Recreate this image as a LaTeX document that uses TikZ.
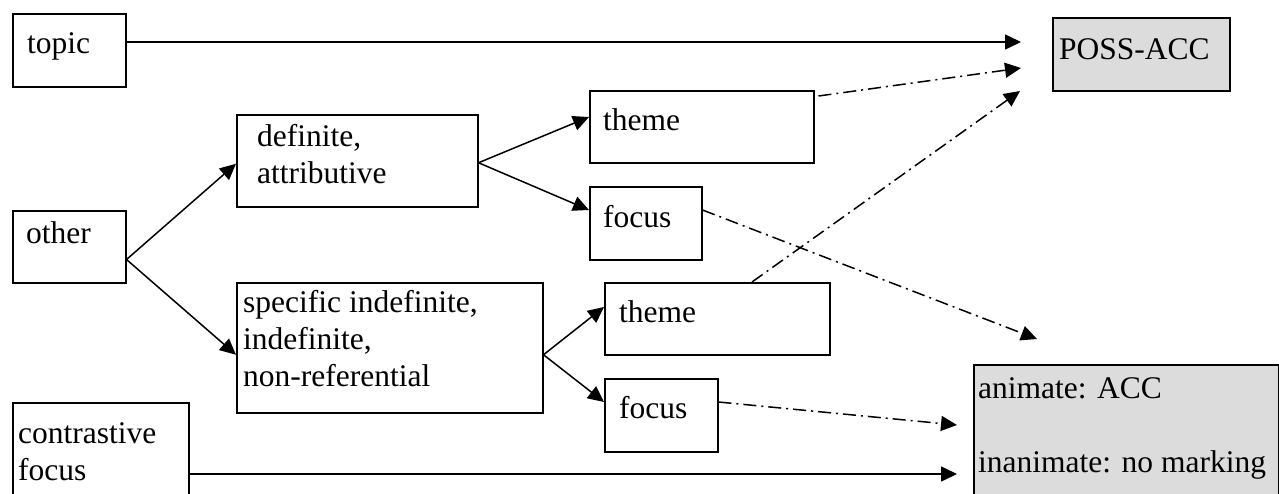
\documentclass[tikz,border=0pt]{standalone}
\usepackage{fontspec}
\setmainfont{Liberation Serif}
\usetikzlibrary{arrows.meta,calc}
\definecolor{boxgray}{RGB}{220,220,220}
\tikzset{
    box/.style={draw, line width=1.5pt, rectangle, inner sep=0pt, anchor=north west},
    grey box/.style={box, fill=boxgray},
    txt/.style={anchor=base west, inner sep=0pt, align=left, font=\fontsize{31.5}{37}\selectfont},
    arr/.style={-{Triangle[length=16pt,width=15pt]}, line width=1.5pt},
    dotarr/.style={arr, dash pattern=on 13pt off 5pt on 2pt off 5pt},
}
\begin{document}
\begin{tikzpicture}[x=1pt,y=-1pt, line join=miter]
        \useasboundingbox (0,0) rectangle (1279,493);
        \clip (0,0) rectangle (1279,493);

        % boxes
        \node[box, minimum width=113pt, minimum height=73pt] (topic) at (12,13) {};
        \node[grey box, minimum width=177pt, minimum height=73pt] (poss) at (1052,17) {};
        \node[box, minimum width=241pt, minimum height=92pt] (defn) at (236,114) {};
        \node[box, minimum width=224pt, minimum height=72pt] (theme1) at (589,90) {};
        \node[box, minimum width=112pt, minimum height=73pt] (focus1) at (589,186) {};
        \node[box, minimum width=113pt, minimum height=72pt] (other) at (12,210) {};
        \node[box, minimum width=306pt, minimum height=130pt] (spec) at (236,282) {};
        \node[box, minimum width=225pt, minimum height=72pt] (theme2) at (604,282) {};
        \node[box, minimum width=113pt, minimum height=73pt] (focus2) at (604,378) {};
        \node[box, minimum width=176pt, minimum height=110pt] (contr) at (12,402) {};
        \node[grey box, minimum width=305pt, minimum height=150pt] (anim) at (973,364) {};

        % texts (base = last line)
        \node[txt] (topictxt) at ($(topic.north west)+(15,40)$) {topic};
        \node[txt] (posstxt) at ($(poss.north west)+(7,42)$) {POSS-ACC};
        \node[txt] (defntxt) at ($(defn.north west)+(21,69)$) {definite,\\attributive};
        \node[txt] (theme1txt) at ($(theme1.north west)+(14,40)$) {theme};
        \node[txt] (focus1txt) at ($(focus1.north west)+(14,41)$) {focus};
        \node[txt] (othertxt) at ($(other.north west)+(14,33)$) {other};
        \node[txt] (spectxt) at ($(spec.north west)+(7,104)$) {specific indefinite,\\indefinite,\\non-referential};
        \node[txt] (theme2txt) at ($(theme2.north west)+(15,40)$) {theme};
        \node[txt] (focus2txt) at ($(focus2.north west)+(15,40)$) {focus};
        \node[txt] (contrtxt) at ($(contr.north west)+(6,78)$) {contrastive\\focus};
        \node[txt] (animtxt) at ($(anim.north west)+(5,108)$) {animate: ACC\\[37pt]inanimate: no marking};

        % free ends
        \coordinate (possin1) at (1021,42);
        \coordinate (possin2) at (1021,68);
        \coordinate (possin3) at (1020,91);
        \coordinate (accin1) at (1037,339);
        \coordinate (accin2) at (957,425);
        \coordinate (accin3) at (957,474);
        \coordinate (otherout) at ($(other.south east)+(0,-24)$);
        \coordinate (defnout) at ($(defn.east)+(0,2)$);
        \coordinate (specout) at ($(spec.east)+(0,7)$);

        % solid arrows
        \draw[arr] (topic.east |- possin1) -- (possin1);
        \draw[arr] (otherout) -- ($(defn.west)+(0,3)$);
        \draw[arr] (otherout) -- ($(spec.west)+(0,7)$);
        \draw[arr] (defnout) -- ($(theme1.north west)+(0,27)$);
        \draw[arr] (defnout) -- ($(focus1.north west)+(0,24)$);
        \draw[arr] (specout) -- ($(theme2.north west)+(0,25)$);
        \draw[arr] (specout) -- ($(focus2.north west)+(0,24)$);
        \draw[arr] (contr.east |- accin3) -- (accin3);

        % dash-dot arrows
        \draw[dotarr] ($(theme1.north east)+(4,6)$) -- (possin2);
        \draw[dotarr] ($(theme2.north west)+(148,0)$) -- (possin3);
        \draw[dotarr] ($(focus1.north east)+(0,24)$) -- (accin1);
        \draw[dotarr] ($(focus2.north east)+(0,24)$) -- (accin2);
    \end{tikzpicture}
\end{document}
